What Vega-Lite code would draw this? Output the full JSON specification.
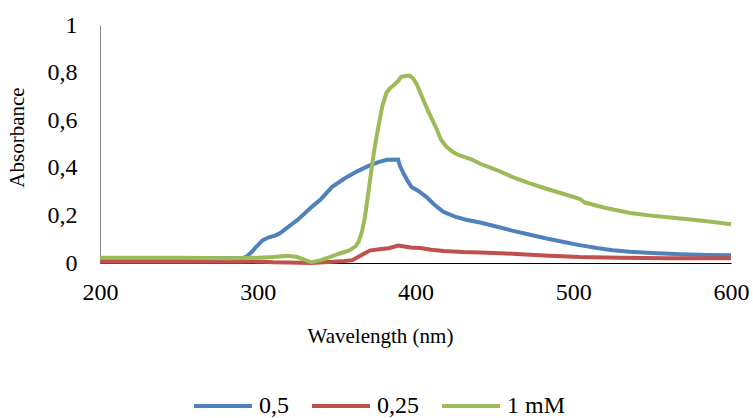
{
  "$schema": "https://vega.github.io/schema/vega-lite/v6.json",
  "width": 631,
  "height": 238,
  "autosize": {"type": "none"},
  "padding": {"left": 100, "top": 25, "right": 22, "bottom": 155},
  "background": "white",
  "config": {"view": {"stroke": null}, "font": "Liberation Serif"},
  "datasets": {
    "spectra": [
      {"wl": 200, "abs": 0.02, "series": "0,5"},
      {"wl": 250, "abs": 0.02, "series": "0,5"},
      {"wl": 290, "abs": 0.02, "series": "0,5"},
      {"wl": 293, "abs": 0.027, "series": "0,5"},
      {"wl": 296, "abs": 0.045, "series": "0,5"},
      {"wl": 299, "abs": 0.068, "series": "0,5"},
      {"wl": 303, "abs": 0.095, "series": "0,5"},
      {"wl": 307, "abs": 0.108, "series": "0,5"},
      {"wl": 311, "abs": 0.115, "series": "0,5"},
      {"wl": 314, "abs": 0.125, "series": "0,5"},
      {"wl": 320, "abs": 0.155, "series": "0,5"},
      {"wl": 325, "abs": 0.18, "series": "0,5"},
      {"wl": 330, "abs": 0.21, "series": "0,5"},
      {"wl": 335, "abs": 0.24, "series": "0,5"},
      {"wl": 340, "abs": 0.268, "series": "0,5"},
      {"wl": 347, "abs": 0.319, "series": "0,5"},
      {"wl": 355, "abs": 0.355, "series": "0,5"},
      {"wl": 363, "abs": 0.385, "series": "0,5"},
      {"wl": 371, "abs": 0.41, "series": "0,5"},
      {"wl": 377, "abs": 0.425, "series": "0,5"},
      {"wl": 382, "abs": 0.434, "series": "0,5"},
      {"wl": 389, "abs": 0.435, "series": "0,5"},
      {"wl": 390, "abs": 0.41, "series": "0,5"},
      {"wl": 392, "abs": 0.382, "series": "0,5"},
      {"wl": 395, "abs": 0.345, "series": "0,5"},
      {"wl": 397.5, "abs": 0.319, "series": "0,5"},
      {"wl": 401.8, "abs": 0.303, "series": "0,5"},
      {"wl": 407, "abs": 0.277, "series": "0,5"},
      {"wl": 412, "abs": 0.245, "series": "0,5"},
      {"wl": 417.6, "abs": 0.215, "series": "0,5"},
      {"wl": 425, "abs": 0.195, "series": "0,5"},
      {"wl": 432, "abs": 0.182, "series": "0,5"},
      {"wl": 441, "abs": 0.17, "series": "0,5"},
      {"wl": 453, "abs": 0.15, "series": "0,5"},
      {"wl": 462, "abs": 0.135, "series": "0,5"},
      {"wl": 472, "abs": 0.12, "series": "0,5"},
      {"wl": 483, "abs": 0.103, "series": "0,5"},
      {"wl": 494, "abs": 0.088, "series": "0,5"},
      {"wl": 504, "abs": 0.075, "series": "0,5"},
      {"wl": 515, "abs": 0.063, "series": "0,5"},
      {"wl": 525, "abs": 0.054, "series": "0,5"},
      {"wl": 536, "abs": 0.047, "series": "0,5"},
      {"wl": 550, "abs": 0.042, "series": "0,5"},
      {"wl": 568, "abs": 0.037, "series": "0,5"},
      {"wl": 585, "abs": 0.034, "series": "0,5"},
      {"wl": 600, "abs": 0.033, "series": "0,5"},

      {"wl": 200, "abs": 0.005, "series": "0,25"},
      {"wl": 290, "abs": 0.005, "series": "0,25"},
      {"wl": 300, "abs": 0.006, "series": "0,25"},
      {"wl": 310, "abs": 0.003, "series": "0,25"},
      {"wl": 320, "abs": 0.002, "series": "0,25"},
      {"wl": 334, "abs": 0.0, "series": "0,25"},
      {"wl": 345, "abs": 0.004, "series": "0,25"},
      {"wl": 355, "abs": 0.008, "series": "0,25"},
      {"wl": 360, "abs": 0.012, "series": "0,25"},
      {"wl": 365, "abs": 0.03, "series": "0,25"},
      {"wl": 371, "abs": 0.052, "series": "0,25"},
      {"wl": 377, "abs": 0.058, "series": "0,25"},
      {"wl": 383, "abs": 0.062, "series": "0,25"},
      {"wl": 389, "abs": 0.073, "series": "0,25"},
      {"wl": 392, "abs": 0.07, "series": "0,25"},
      {"wl": 397, "abs": 0.065, "series": "0,25"},
      {"wl": 403, "abs": 0.063, "series": "0,25"},
      {"wl": 410, "abs": 0.056, "series": "0,25"},
      {"wl": 418, "abs": 0.05, "series": "0,25"},
      {"wl": 430, "abs": 0.046, "series": "0,25"},
      {"wl": 441, "abs": 0.044, "series": "0,25"},
      {"wl": 454, "abs": 0.041, "series": "0,25"},
      {"wl": 470, "abs": 0.036, "series": "0,25"},
      {"wl": 485, "abs": 0.03, "series": "0,25"},
      {"wl": 504, "abs": 0.025, "series": "0,25"},
      {"wl": 530, "abs": 0.022, "series": "0,25"},
      {"wl": 560, "abs": 0.02, "series": "0,25"},
      {"wl": 600, "abs": 0.02, "series": "0,25"},

      {"wl": 200, "abs": 0.022, "series": "1 mM"},
      {"wl": 250, "abs": 0.022, "series": "1 mM"},
      {"wl": 282, "abs": 0.02, "series": "1 mM"},
      {"wl": 300, "abs": 0.022, "series": "1 mM"},
      {"wl": 310, "abs": 0.025, "series": "1 mM"},
      {"wl": 319, "abs": 0.03, "series": "1 mM"},
      {"wl": 325, "abs": 0.025, "series": "1 mM"},
      {"wl": 334, "abs": 0.003, "series": "1 mM"},
      {"wl": 340, "abs": 0.012, "series": "1 mM"},
      {"wl": 346, "abs": 0.026, "series": "1 mM"},
      {"wl": 352, "abs": 0.04, "series": "1 mM"},
      {"wl": 358, "abs": 0.053, "series": "1 mM"},
      {"wl": 362, "abs": 0.07, "series": "1 mM"},
      {"wl": 364, "abs": 0.09, "series": "1 mM"},
      {"wl": 366, "abs": 0.13, "series": "1 mM"},
      {"wl": 368, "abs": 0.194, "series": "1 mM"},
      {"wl": 370, "abs": 0.29, "series": "1 mM"},
      {"wl": 372, "abs": 0.389, "series": "1 mM"},
      {"wl": 374, "abs": 0.48, "series": "1 mM"},
      {"wl": 376.4, "abs": 0.57, "series": "1 mM"},
      {"wl": 379, "abs": 0.66, "series": "1 mM"},
      {"wl": 381.7, "abs": 0.717, "series": "1 mM"},
      {"wl": 384, "abs": 0.735, "series": "1 mM"},
      {"wl": 387, "abs": 0.752, "series": "1 mM"},
      {"wl": 389, "abs": 0.765, "series": "1 mM"},
      {"wl": 391, "abs": 0.782, "series": "1 mM"},
      {"wl": 394, "abs": 0.787, "series": "1 mM"},
      {"wl": 396.5, "abs": 0.787, "series": "1 mM"},
      {"wl": 398.5, "abs": 0.775, "series": "1 mM"},
      {"wl": 400.7, "abs": 0.752, "series": "1 mM"},
      {"wl": 404, "abs": 0.7, "series": "1 mM"},
      {"wl": 407, "abs": 0.654, "series": "1 mM"},
      {"wl": 410, "abs": 0.61, "series": "1 mM"},
      {"wl": 413.4, "abs": 0.563, "series": "1 mM"},
      {"wl": 416, "abs": 0.52, "series": "1 mM"},
      {"wl": 419.8, "abs": 0.487, "series": "1 mM"},
      {"wl": 424, "abs": 0.465, "series": "1 mM"},
      {"wl": 428, "abs": 0.452, "series": "1 mM"},
      {"wl": 435, "abs": 0.437, "series": "1 mM"},
      {"wl": 441, "abs": 0.417, "series": "1 mM"},
      {"wl": 447, "abs": 0.402, "series": "1 mM"},
      {"wl": 453.6, "abs": 0.385, "series": "1 mM"},
      {"wl": 462, "abs": 0.36, "series": "1 mM"},
      {"wl": 472, "abs": 0.336, "series": "1 mM"},
      {"wl": 483, "abs": 0.312, "series": "1 mM"},
      {"wl": 494, "abs": 0.29, "series": "1 mM"},
      {"wl": 504, "abs": 0.27, "series": "1 mM"},
      {"wl": 507.4, "abs": 0.254, "series": "1 mM"},
      {"wl": 520, "abs": 0.232, "series": "1 mM"},
      {"wl": 536, "abs": 0.21, "series": "1 mM"},
      {"wl": 552, "abs": 0.197, "series": "1 mM"},
      {"wl": 568, "abs": 0.187, "series": "1 mM"},
      {"wl": 585, "abs": 0.175, "series": "1 mM"},
      {"wl": 600, "abs": 0.163, "series": "1 mM"}
    ]
  },
  "data": {"name": "spectra"},
  "encoding": {
    "x": {
      "field": "wl",
      "type": "quantitative",
      "scale": {"domain": [200, 600], "nice": false},
      "axis": {
        "values": [200, 300, 400, 500, 600],
        "ticks": false,
        "grid": false,
        "domainColor": "#000000",
        "domainWidth": 1,
        "labelFontSize": 24,
        "labelColor": "#000000",
        "labelPadding": 17,
        "labelFlush": false,
        "title": "Wavelength (nm)",
        "titleFontSize": 21,
        "titleFontWeight": "normal",
        "titleColor": "#000000",
        "titleX": 280,
        "titleY": 79,
        "titleBaseline": "alphabetic"
      }
    },
    "y": {
      "field": "abs",
      "type": "quantitative",
      "scale": {"domain": [0, 1], "nice": false},
      "axis": {
        "values": [0, 0.2, 0.4, 0.6, 0.8, 1],
        "format": "~g",
        "labelExpr": "replace(datum.label, '.', ',')",
        "ticks": false,
        "grid": false,
        "domainColor": "#868686",
        "domainWidth": 1,
        "labelFontSize": 24,
        "labelColor": "#000000",
        "labelPadding": 23,
        "labelFlush": false,
        "title": "Absorbance",
        "titleFontSize": 21,
        "titleFontWeight": "normal",
        "titleColor": "#000000",
        "titleX": -83,
        "titleY": 112,
        "titleBaseline": "middle"
      }
    },
    "color": {
      "field": "series",
      "type": "nominal",
      "scale": {"domain": ["0,5", "0,25", "1 mM"], "range": ["#4F81BD", "#C0504D", "#9BBB59"]},
      "legend": {
        "orient": "none",
        "legendX": 92,
        "legendY": 350,
        "direction": "horizontal",
        "title": null,
        "symbolType": "stroke",
        "symbolSize": 3364,
        "symbolStrokeWidth": 4,
        "labelFontSize": 24,
        "labelColor": "#000000",
        "labelOffset": 5,
        "columnPadding": 15
      }
    }
  },
  "layer": [
    {"transform": [{"filter": "datum.series === '0,5'"}], "mark": {"type": "line", "strokeWidth": 4}},
    {"transform": [{"filter": "datum.series === '0,25'"}], "mark": {"type": "line", "strokeWidth": 4}},
    {"transform": [{"filter": "datum.series === '1 mM'"}], "mark": {"type": "line", "strokeWidth": 4}}
  ]
}
